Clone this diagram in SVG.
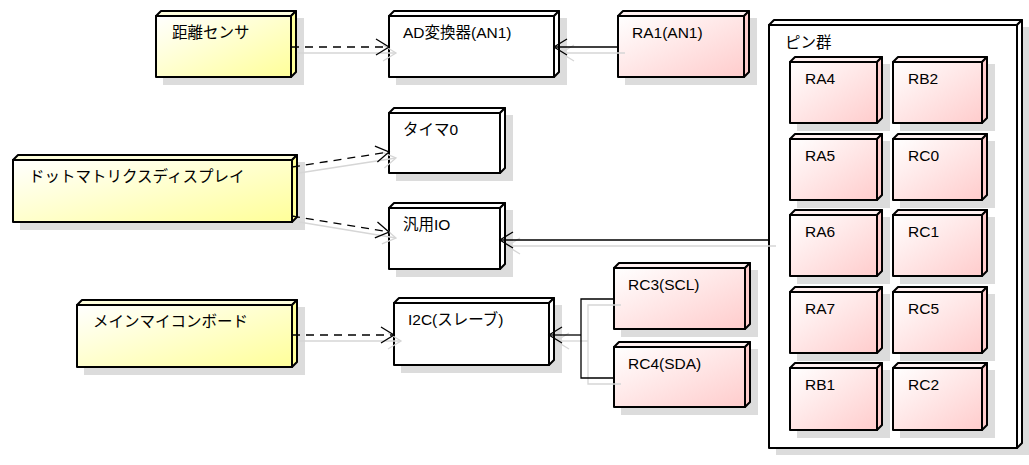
<svg xmlns="http://www.w3.org/2000/svg" width="1029" height="465" viewBox="0 0 1029 465">
<defs>
<linearGradient id="gy" x1="0" y1="0" x2="1" y2="1"><stop offset="0" stop-color="#ffffff"/><stop offset="1" stop-color="#ffff99"/></linearGradient>
<linearGradient id="gp" x1="0" y1="0" x2="1" y2="1"><stop offset="0" stop-color="#ffffff"/><stop offset="1" stop-color="#ffcccc"/></linearGradient>
<marker id="ar" viewBox="-14 -10 16 20" refX="0" refY="0" markerWidth="16" markerHeight="20" markerUnits="userSpaceOnUse" orient="auto"><path d="M-13,-8 L0,0 L-13,8" fill="none" stroke="#000" stroke-width="1.3"/></marker>
<marker id="ars" viewBox="-14 -10 16 20" refX="0" refY="0" markerWidth="16" markerHeight="20" markerUnits="userSpaceOnUse" orient="auto"><path d="M-13,-8 L0,0 L-13,8" fill="none" stroke="#d6d6d6" stroke-width="1.3"/></marker>
</defs>
<style>
.sh{fill:#dcdcdc;stroke:none}
.f{stroke:#000;stroke-width:2;stroke-linejoin:round}
.w{fill:#fff}
.y{fill:url(#gy)}
.yt{fill:#ffffdd}
.ys{fill:#ffff99}
.p{fill:url(#gp)}
.pt{fill:#fff0f0}
.ps{fill:#ffcccc}
.t{font-family:"Liberation Sans","Noto Sans CJK JP",sans-serif;font-size:15.5px;fill:#000}
.c{fill:none;stroke:#000;stroke-width:1.3}
.d{stroke-dasharray:8,6}
.cs{fill:none;stroke:#d6d6d6;stroke-width:1.3}
</style>
<rect width="1029" height="465" fill="#fff"/>

<g id="pins">
<rect class="sh" x="776" y="27" width="254" height="428"/>
<polygon class="f w" points="769,25 774,20 1022,20 1017,25"/>
<polygon class="f w" points="1017,25 1022,20 1022,443 1017,448"/>
<rect class="f w" x="769" y="25" width="248" height="423"/>
<text class="t" x="785" y="48">ピン群</text>
</g>

<g id="kyori">
<rect class="sh" x="163" y="18" width="141" height="67"/>
<polygon class="f yt" points="156,16 161,11 296,11 291,16"/>
<polygon class="f ys" points="291,16 296,11 296,72 291,77"/>
<rect class="f y" x="156" y="16" width="135" height="61"/>
<text class="t" x="172" y="38">距離センサ</text>
</g>

<g id="ad">
<rect class="sh" x="396" y="18" width="171" height="67"/>
<polygon class="f w" points="389,16 394,11 559,11 554,16"/>
<polygon class="f w" points="554,16 559,11 559,72 554,77"/>
<rect class="f w" x="389" y="16" width="165" height="61"/>
<text class="t" x="403" y="38">AD変換器(AN1)</text>
</g>

<g id="ra1">
<rect class="sh" x="625" y="18" width="132" height="67"/>
<polygon class="f pt" points="618,16 623,11 749,11 744,16"/>
<polygon class="f ps" points="744,16 749,11 749,72 744,77"/>
<rect class="f p" x="618" y="16" width="126" height="61"/>
<text class="t" x="632" y="38">RA1(AN1)</text>
</g>

<g id="dot">
<rect class="sh" x="20" y="162" width="285" height="68"/>
<polygon class="f yt" points="13,160 18,155 297,155 292,160"/>
<polygon class="f ys" points="292,160 297,155 297,217 292,222"/>
<rect class="f y" x="13" y="160" width="279" height="62"/>
<text class="t" x="29" y="182">ドットマトリクスディスプレイ</text>
</g>

<g id="timer0">
<rect class="sh" x="396" y="115" width="117" height="66"/>
<polygon class="f w" points="389,113 394,108 505,108 500,113"/>
<polygon class="f w" points="500,113 505,108 505,168 500,173"/>
<rect class="f w" x="389" y="113" width="111" height="60"/>
<text class="t" x="403" y="135">タイマ0</text>
</g>

<g id="gpio">
<rect class="sh" x="396" y="210" width="117" height="67"/>
<polygon class="f w" points="389,208 394,203 505,203 500,208"/>
<polygon class="f w" points="500,208 505,203 505,264 500,269"/>
<rect class="f w" x="389" y="208" width="111" height="61"/>
<text class="t" x="403" y="230">汎用IO</text>
</g>

<g id="main">
<rect class="sh" x="84" y="307" width="221" height="68"/>
<polygon class="f yt" points="77,305 82,300 297,300 292,305"/>
<polygon class="f ys" points="292,305 297,300 297,362 292,367"/>
<rect class="f y" x="77" y="305" width="215" height="62"/>
<text class="t" x="93" y="327">メインマイコンボード</text>
</g>

<g id="i2c">
<rect class="sh" x="401" y="305" width="161" height="68"/>
<polygon class="f w" points="394,303 399,298 554,298 549,303"/>
<polygon class="f w" points="549,303 554,298 554,360 549,365"/>
<rect class="f w" x="394" y="303" width="155" height="62"/>
<text class="t" x="408" y="325">I2C(スレーブ)</text>
</g>

<g id="rc3">
<rect class="sh" x="621" y="270" width="137" height="67"/>
<polygon class="f pt" points="614,268 619,263 750,263 745,268"/>
<polygon class="f ps" points="745,268 750,263 750,324 745,329"/>
<rect class="f p" x="614" y="268" width="131" height="61"/>
<text class="t" x="628" y="290">RC3(SCL)</text>
</g>

<g id="rc4">
<rect class="sh" x="621" y="349" width="137" height="66"/>
<polygon class="f pt" points="614,347 619,342 750,342 745,347"/>
<polygon class="f ps" points="745,347 750,342 750,402 745,407"/>
<rect class="f p" x="614" y="347" width="131" height="60"/>
<text class="t" x="628" y="369">RC4(SDA)</text>
</g>

<g id="ra4">
<rect class="sh" x="797" y="64" width="93" height="67"/>
<polygon class="f pt" points="790,62 795,57 882,57 877,62"/>
<polygon class="f ps" points="877,62 882,57 882,118 877,123"/>
<rect class="f p" x="790" y="62" width="87" height="61"/>
<text class="t" x="805" y="84">RA4</text>
</g>
<g id="ra5">
<rect class="sh" x="797" y="141" width="93" height="67"/>
<polygon class="f pt" points="790,139 795,134 882,134 877,139"/>
<polygon class="f ps" points="877,139 882,134 882,195 877,200"/>
<rect class="f p" x="790" y="139" width="87" height="61"/>
<text class="t" x="805" y="161">RA5</text>
</g>
<g id="ra6">
<rect class="sh" x="797" y="217" width="93" height="67"/>
<polygon class="f pt" points="790,215 795,210 882,210 877,215"/>
<polygon class="f ps" points="877,215 882,210 882,271 877,276"/>
<rect class="f p" x="790" y="215" width="87" height="61"/>
<text class="t" x="805" y="237">RA6</text>
</g>
<g id="ra7">
<rect class="sh" x="797" y="294" width="93" height="67"/>
<polygon class="f pt" points="790,292 795,287 882,287 877,292"/>
<polygon class="f ps" points="877,292 882,287 882,348 877,353"/>
<rect class="f p" x="790" y="292" width="87" height="61"/>
<text class="t" x="805" y="314">RA7</text>
</g>
<g id="rb1">
<rect class="sh" x="797" y="370" width="93" height="68"/>
<polygon class="f pt" points="790,368 795,363 882,363 877,368"/>
<polygon class="f ps" points="877,368 882,363 882,425 877,430"/>
<rect class="f p" x="790" y="368" width="87" height="62"/>
<text class="t" x="805" y="390">RB1</text>
</g>

<g id="rb2">
<rect class="sh" x="900" y="64" width="95" height="67"/>
<polygon class="f pt" points="893,62 898,57 987,57 982,62"/>
<polygon class="f ps" points="982,62 987,57 987,118 982,123"/>
<rect class="f p" x="893" y="62" width="89" height="61"/>
<text class="t" x="908" y="84">RB2</text>
</g>
<g id="rc0">
<rect class="sh" x="900" y="141" width="95" height="67"/>
<polygon class="f pt" points="893,139 898,134 987,134 982,139"/>
<polygon class="f ps" points="982,139 987,134 987,195 982,200"/>
<rect class="f p" x="893" y="139" width="89" height="61"/>
<text class="t" x="908" y="161">RC0</text>
</g>
<g id="rc1">
<rect class="sh" x="900" y="217" width="95" height="67"/>
<polygon class="f pt" points="893,215 898,210 987,210 982,215"/>
<polygon class="f ps" points="982,215 987,210 987,271 982,276"/>
<rect class="f p" x="893" y="215" width="89" height="61"/>
<text class="t" x="908" y="237">RC1</text>
</g>
<g id="rc5">
<rect class="sh" x="900" y="294" width="95" height="67"/>
<polygon class="f pt" points="893,292 898,287 987,287 982,292"/>
<polygon class="f ps" points="982,292 987,287 987,348 982,353"/>
<rect class="f p" x="893" y="292" width="89" height="61"/>
<text class="t" x="908" y="314">RC5</text>
</g>
<g id="rc2">
<rect class="sh" x="900" y="370" width="95" height="68"/>
<polygon class="f pt" points="893,368 898,363 987,363 982,368"/>
<polygon class="f ps" points="982,368 987,363 987,425 982,430"/>
<rect class="f p" x="893" y="368" width="89" height="62"/>
<text class="t" x="908" y="390">RC2</text>
</g>

<g id="connectors">
<g transform="translate(7,6)">
<line class="cs" x1="291" y1="47" x2="389" y2="47" marker-end="url(#ars)"/>
<line class="cs" x1="618" y1="47" x2="554" y2="47" marker-end="url(#ars)"/>
<line class="cs" x1="292" y1="167" x2="389" y2="152" marker-end="url(#ars)"/>
<line class="cs" x1="292" y1="216" x2="389" y2="232" marker-end="url(#ars)"/>
<line class="cs" x1="769" y1="240" x2="500" y2="240" marker-end="url(#ars)"/>
<line class="cs" x1="292" y1="335" x2="394" y2="335" marker-end="url(#ars)"/>
<polyline class="cs" points="614,299 581,299 581,378 614,378"/>
<line class="cs" x1="581" y1="335" x2="549" y2="335" marker-end="url(#ars)"/>
</g>
<line class="c d" x1="291" y1="47" x2="389" y2="47" marker-end="url(#ar)"/>
<line class="c" x1="618" y1="47" x2="554" y2="47" marker-end="url(#ar)"/>
<line class="c d" x1="292" y1="167" x2="389" y2="152" marker-end="url(#ar)"/>
<line class="c d" x1="292" y1="216" x2="389" y2="232" marker-end="url(#ar)"/>
<line class="c" x1="769" y1="240" x2="500" y2="240" marker-end="url(#ar)"/>
<line class="c d" x1="292" y1="335" x2="394" y2="335" marker-end="url(#ar)"/>
<polyline class="c" points="614,299 581,299 581,378 614,378"/>
<line class="c" x1="581" y1="335" x2="549" y2="335" marker-end="url(#ar)"/>
</g>
</svg>
